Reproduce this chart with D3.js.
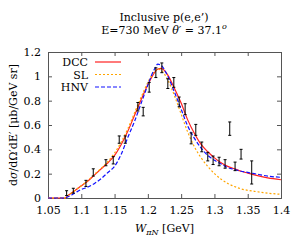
<!DOCTYPE html>
<html>
<head>
<meta charset="utf-8">
<script src="https://cdn.jsdelivr.net/npm/d3@7"></script>
<style>
body{margin:0;background:#fff;}
</style>
</head>
<body>
<div id="chart"></div>
<script>
// measured points (W, value, error)
var dataW   = [1.078,1.088,1.107,1.118,1.137,1.148,1.157,1.166,1.185,1.193,1.202,1.212,1.221,1.230,1.239,1.247,1.256,1.265,1.272,1.281,1.290,1.298,1.307,1.316,1.323,1.331,1.340,1.356];
var dataY   = [0.04,0.06,0.12,0.21,0.29,0.31,0.48,0.48,0.75,0.71,0.91,1.03,1.07,0.94,0.95,0.79,0.73,0.49,0.56,0.42,0.34,0.31,0.30,0.28,0.57,0.26,0.36,0.21];
var dataErr = [0.02,0.02,0.025,0.03,0.025,0.03,0.03,0.03,0.035,0.035,0.04,0.04,0.04,0.04,0.04,0.04,0.045,0.045,0.045,0.04,0.035,0.035,0.035,0.035,0.055,0.035,0.04,0.095];

var curveW = [1.05,1.075,1.08,1.09,1.10,1.11,1.12,1.13,1.14,1.15,1.16,1.17,1.18,1.19,1.20,1.21,1.215,1.22,1.23,1.24,1.25,1.26,1.27,1.28,1.29,1.30,1.31,1.32,1.33,1.34,1.35,1.36,1.38,1.40];
var dcc = [0,0,0.02,0.06,0.10,0.14,0.19,0.24,0.29,0.35,0.44,0.55,0.68,0.81,0.93,1.03,1.06,1.065,1.01,0.90,0.78,0.64,0.53,0.44,0.38,0.33,0.29,0.26,0.24,0.22,0.205,0.19,0.165,0.15];
var sl  = [0,0,0.02,0.06,0.10,0.145,0.195,0.245,0.30,0.37,0.46,0.57,0.70,0.83,0.95,1.04,1.06,1.05,0.97,0.84,0.69,0.54,0.42,0.33,0.26,0.20,0.155,0.12,0.095,0.075,0.063,0.055,0.04,0.03];
var hnv = [0,0,0.01,0.04,0.07,0.09,0.12,0.16,0.21,0.26,0.36,0.50,0.63,0.78,0.93,1.06,1.10,1.09,1.00,0.87,0.73,0.59,0.49,0.41,0.35,0.31,0.28,0.25,0.235,0.22,0.21,0.20,0.18,0.17];

var xTicks = [1.05,1.1,1.15,1.2,1.25,1.3,1.35,1.4];
var yTicks = [0,0.2,0.4,0.6,0.8,1,1.2];

var series = [
  {name:"DCC", vals:dcc, color:"#ff2020", dash:null},
  {name:"SL",  vals:sl,  color:"#ffa500", dash:"2,2"},
  {name:"HNV", vals:hnv, color:"#1010ff", dash:"4,2"}
];

var FONT = "'DejaVu Serif', serif";

var svg = d3.select("#chart").append("svg").attr("width",300).attr("height",240),
    margin = {top:52, right:19, bottom:42, left:48},
    width = 300 - margin.left - margin.right,
    height = 240 - margin.top - margin.bottom;

var x = d3.scaleLinear().domain([1.05,1.4]).range([0,width]);
var y = d3.scaleLinear().domain([0,1.2]).range([height,0]);

var g = svg.append("g").attr("transform","translate("+margin.left+","+margin.top+")");

// axes, ticks on all four sides
g.append("g").attr("transform","translate(0,"+height+")")
  .call(d3.axisBottom(x).tickValues(xTicks).tickSize(-4).tickPadding(8).tickFormat(d3.format("")));
g.append("g")
  .call(d3.axisTop(x).tickValues(xTicks).tickSize(-4).tickFormat(""));
g.append("g")
  .call(d3.axisLeft(y).tickValues(yTicks).tickSize(-4).tickPadding(7).tickFormat(d3.format("")));
g.append("g").attr("transform","translate("+width+",0)")
  .call(d3.axisRight(y).tickValues(yTicks).tickSize(-4).tickFormat(""));
g.selectAll(".domain").attr("stroke","#555");
g.selectAll(".tick line").attr("stroke","#555");
g.selectAll(".tick text").attr("font-size","11px");

series.forEach(function(s){
  g.append("path")
    .datum(curveW.map(function(w,i){return [w,s.vals[i]];}))
    .attr("fill","none")
    .attr("stroke",s.color)
    .attr("stroke-width",1.2)
    .attr("stroke-dasharray",s.dash)
    .attr("d",d3.line().curve(d3.curveMonotoneX).x(function(d){return x(d[0]);}).y(function(d){return y(d[1]);}));
});

// error bars
var pts = dataW.map(function(w,i){return {w:w,v:dataY[i],e:dataErr[i]};});
var eb = g.selectAll(".err").data(pts).enter().append("g").attr("class","err")
  .attr("stroke","#000").attr("stroke-width",1);
eb.append("line")
  .attr("x1",function(d){return x(d.w);}).attr("x2",function(d){return x(d.w);})
  .attr("y1",function(d){return y(d.v-d.e);}).attr("y2",function(d){return y(d.v+d.e);});
eb.append("line")
  .attr("x1",function(d){return x(d.w)-1.5;}).attr("x2",function(d){return x(d.w)+1.5;})
  .attr("y1",function(d){return y(d.v-d.e);}).attr("y2",function(d){return y(d.v-d.e);});
eb.append("line")
  .attr("x1",function(d){return x(d.w)-1.5;}).attr("x2",function(d){return x(d.w)+1.5;})
  .attr("y1",function(d){return y(d.v+d.e);}).attr("y2",function(d){return y(d.v+d.e);});

// legend
var leg = g.selectAll(".leg").data(series).enter().append("g")
  .attr("transform",function(d,i){return "translate(0,"+(10+i*12.5)+")";});
leg.append("text").attr("x",40).attr("y",4).attr("text-anchor","end").attr("font-size","11px")
  .text(function(d){return d.name;});
leg.append("line").attr("x1",47).attr("x2",73).attr("y1",0).attr("y2",0)
  .attr("stroke",function(d){return d.color;}).attr("stroke-width",1.2)
  .attr("stroke-dasharray",function(d){return d.dash;});

// titles
svg.append("text").attr("x",164).attr("y",21).attr("text-anchor","middle").attr("font-size","11px")
  .text("Inclusive p(e,e’)");
var t2 = svg.append("text").attr("x",164).attr("y",34).attr("text-anchor","middle").attr("font-size","11px");
t2.append("tspan").text("E=730 MeV ");
t2.append("tspan").attr("font-style","italic").text("θ′");
t2.append("tspan").text(" = 37.1");
t2.append("tspan").attr("font-size","8px").attr("dy","-5").attr("font-style","italic").text("o");

// axis labels
var xl = svg.append("text").attr("x",margin.left+width/2).attr("y",232).attr("text-anchor","middle").attr("font-size","11px");
xl.append("tspan").attr("font-style","italic").text("W");
xl.append("tspan").attr("font-size","8px").attr("dy","3").attr("font-style","italic").text("πN");
xl.append("tspan").attr("dy","-3").text(" [GeV]");

var yl = svg.append("text").attr("transform","translate(17,"+(margin.top+height/2)+") rotate(-90)")
  .attr("text-anchor","middle").attr("font-size","11px");
yl.append("tspan").text("d");
yl.append("tspan").attr("font-style","italic").text("σ");
yl.append("tspan").text("/dΩ′dE′ [μb/GeV sr]");

svg.selectAll("text").style("font-family",FONT).style("fill","#000");
</script>
</body>
</html>
